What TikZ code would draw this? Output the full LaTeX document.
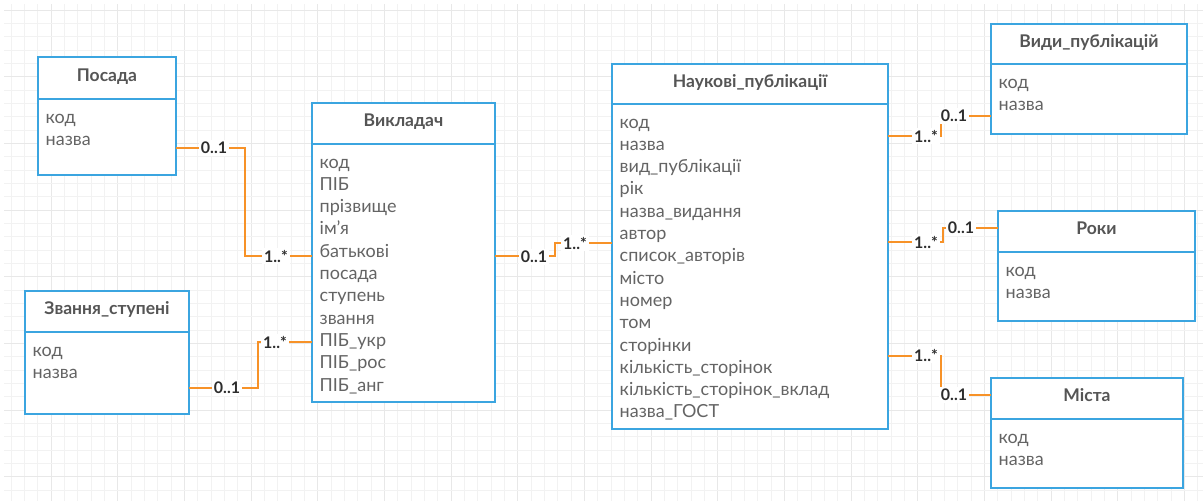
\documentclass[tikz,border=0pt]{standalone}
\usepackage{fontspec}
\setmainfont{Lato}
\definecolor{boxblue}{RGB}{59,165,224}
\definecolor{connor}{RGB}{247,146,40}
\definecolor{titlegray}{RGB}{85,85,85}
\definecolor{rowgray}{RGB}{100,100,100}
\definecolor{labgray}{RGB}{45,45,45}
\definecolor{gridminor}{RGB}{242,242,242}
\definecolor{gridmajor}{RGB}{232,232,232}
\tikzset{
  box/.style={draw=boxblue, line width=2.4pt, fill=white, inner sep=0pt, outer sep=0pt, rectangle},
  boxline/.style={draw=boxblue, line width=2.4pt},
  ttl/.style={font=\fontsize{17.5}{20}\selectfont\bfseries, text=titlegray, inner sep=0pt},
  rowtxt/.style={font=\fontsize{18}{21}\selectfont, text=rowgray, inner sep=0pt},
  conn/.style={draw=connor, line width=2.2pt},
  mult/.style={font=\fontsize{16}{19}\selectfont\bfseries, text=labgray, fill=white, inner sep=2pt},
}
\newcommand{\umlbox}[8]{%
  \node[box, minimum width={#4-#2}, minimum height={#5-#3}, anchor=north west] (#1) at (#2,#3) {};
  \draw[boxline] (#1.west |- 0,#6) -- (#1.east |- 0,#6);
  \node[ttl, anchor=base] (#1-t) at ({(#2+#4)/2}, {(#3+#6)/2+3}) {#7};
  \foreach \r [count=\i from 0] in {#8} {
    \node[rowtxt, anchor=base west] (#1-r\i) at ({#2+7.5}, {#6+24+22.3*\i}) {\r};
  }
}
\begin{document}
\begin{tikzpicture}[x=1pt,y=-1pt]
\useasboundingbox (0,0) rectangle (1203,501);
\fill[white] (0,0) rectangle (1203,501);
% grid
\foreach \k in {0,...,89} {
  \pgfmathtruncatemacro{\m}{mod(\k,5)}
  \ifnum\m=3 \def\gc{gridmajor}\else\def\gc{gridminor}\fi
  \draw[\gc, line width=0.9pt] ({11+13.333*\k},4) -- ({11+13.333*\k},501);
}
\foreach \k in {0,...,36} {
  \pgfmathtruncatemacro{\m}{mod(\k,5)}
  \ifnum\m=0 \def\gc{gridmajor}\else\def\gc{gridminor}\fi
  \draw[\gc, line width=0.9pt] (4,{10+13.333*\k}) -- (1203,{10+13.333*\k});
}
% entities
\umlbox{posada}{38}{57}{176}{175}{99}{Посада}{код,назва}
\umlbox{zvann}{25}{291}{189}{414}{332}{Звання\_ступені}{код,назва}
\umlbox{vykl}{312}{103}{495}{402}{144}{Викладач}{код,ПІБ,прізвище,ім’я,батькові,посада,ступень,звання,ПІБ\_укр,ПІБ\_рос,ПІБ\_анг}
\umlbox{nauk}{612}{64}{888}{429}{104}{Наукові\_публікації}{код,назва,вид\_публікації,рік,назва\_видання,автор,список\_авторів,місто,номер,том,сторінки,кількість\_сторінок,кількість\_сторінок\_вклад,назва\_ГОСТ}
\umlbox{vydy}{991}{24}{1187}{134}{64}{Види\_публікацій}{код,назва}
\umlbox{roky}{998}{211}{1195}{321}{252}{Роки}{код,назва}
\umlbox{mista}{991}{378}{1183}{488}{419}{Міста}{код,назва}
% connectors
\draw[conn] (posada.east |- 0,148) -- (245,148) |- (vykl.west |- 0,256);
\node[mult] (m1a) at (214,148) {0..1};
\node[mult] (m1b) at (276,256) {1..*};
\draw[conn] (zvann.east |- 0,388) -- (258,388) |- (vykl.west |- 0,342);
\node[mult] (m2a) at (227,388) {0..1};
\node[mult] (m2b) at (275,342) {1..*};
\draw[conn] (vykl.east |- 0,256) -- (555,256) |- (nauk.west |- 0,243);
\node[mult] (m3a) at (534,257) {0..1};
\node[mult] (m3b) at (575,243) {1..*};
\draw[conn] (nauk.east |- 0,136) -- (941,136) |- (vydy.west |- 0,116);
\node[mult] (m4a) at (926,136) {1..*};
\node[mult] (m4b) at (954,116) {0..1};
\draw[conn] (nauk.east |- 0,242) -- (943,242) |- (roky.west |- 0,228);
\node[mult] (m5a) at (926,242) {1..*};
\node[mult] (m5b) at (961,228) {0..1};
\draw[conn] (nauk.east |- 0,356) -- (941,356) |- (mista.west |- 0,395);
\node[mult] (m6a) at (926,355) {1..*};
\node[mult] (m6b) at (954,395) {0..1};
\end{tikzpicture}
\end{document}
